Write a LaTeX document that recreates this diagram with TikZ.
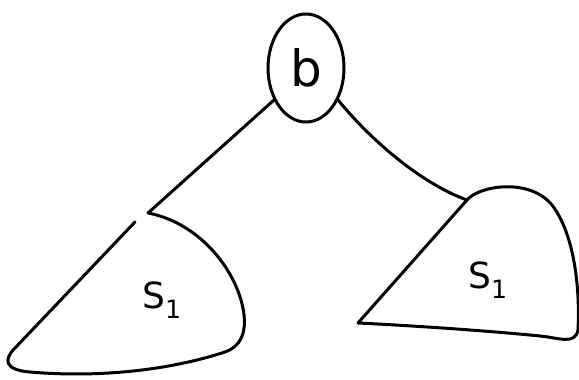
\documentclass[tikz,border=0pt]{standalone}
\usepackage{fontspec}
\setmainfont{DejaVu Sans}
\usetikzlibrary{shapes.geometric, positioning, calc}
\tikzset{
  inkline/.style={line width=3pt,line cap=round,line join=round,black},
  rootnode/.style={ellipse,draw,line width=3pt,minimum width=76pt,minimum height=108pt,inner sep=0pt,font=\fontsize{50}{50}\selectfont},
  subtreelbl/.style={font=\fontsize{36}{36}\selectfont,inner sep=0pt},
  edge/.style={inkline}
}
\begin{document}
\begin{tikzpicture}[x=1pt,y=-1pt]
  \useasboundingbox (0,0) rectangle (579,380);

  %% root
  \node[rootnode] (root) at (306,68) {b};

  %% left subtree
  \coordinate (lapex) at (148,213);
  \draw[inkline] (lapex) .. controls (195,222) and (230,262) .. (241,300)
      .. controls (248,325) and (245,345) .. (225,352)
      .. controls (170,370) and (100,378) .. (30,372)
      .. controls (5,370) and (3,360) .. (15,348)
      -- (135,222);
  \node[subtreelbl] (sleft) at (162,300) {S\textsubscript{1}};

  %% right subtree
  \coordinate (rapex) at (467,200);
  \draw[inkline] (rapex) .. controls (480,185) and (530,178) .. (552,205)
      .. controls (575,235) and (580,290) .. (578,330)
      .. controls (575,345) and (560,338) .. (540,336)
      .. controls (480,330) and (400,325) .. (358,323)
      -- (rapex);
  \node[subtreelbl] (sright) at (488,280) {S\textsubscript{1}};

  %% edges
  \draw[edge] (root.-135) -- (lapex);
  \draw[edge] (root.-45) .. controls (375,145) and (425,185) .. (rapex);
\end{tikzpicture}
\end{document}
